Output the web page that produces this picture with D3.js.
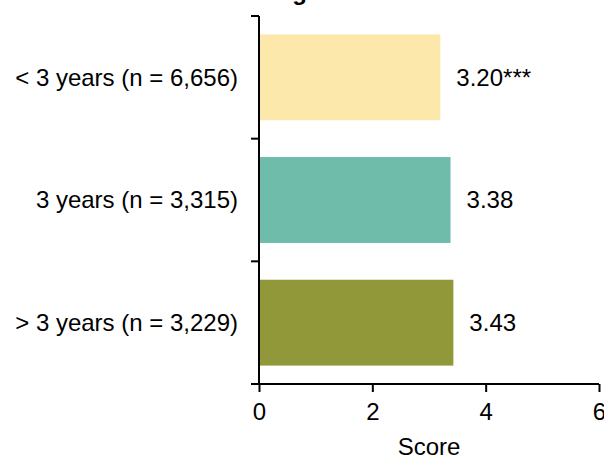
<!DOCTYPE html>
<html lang="en">
    <head>
        <title>Knowledge Score</title>
        <meta charset="utf-8">
        <script src="https://d3js.org/d3.v7.min.js"></script>
        <style>
            * {
                margin: 0;
                padding: 0;
            }
            body {
                background-color: white;
                overflow: hidden;
            }
            text {
                font-family: "Liberation Sans", Arial, sans-serif;
            }
        </style>
    </head>
    <body>
        <main></main>
        <script>

            const categories = ["< 3 years (n = 6,656)", "3 years (n = 3,315)", "> 3 years (n = 3,229)"];
            const scores = [3.20, 3.38, 3.43];
            const valueLabels = ["3.20***", "3.38", "3.43"];
            const barColors = ["#fde8ab", "#6fbcab", "#91983a"];
            const xTicks = [0, 2, 4, 6];

            const w = 604;
            const h = 457;
            const plotLeft = 259;
            const plotRight = 599;
            const plotTop = 16;
            const plotBottom = 384;
            const fontSize = "24px";

            const svg = d3.select("main")
                .append("svg")
                .attr("width", w)
                .attr("height", h);

            const xScale = d3.scaleLinear()
                .domain([0, 6])
                .range([plotLeft, plotRight]);

            const yScale = d3.scaleBand()
                .domain(categories)
                .range([plotTop, plotBottom])
                .paddingInner(0.3)
                .paddingOuter(0.15);

            svg.selectAll("rect")
                .data(categories)
                .enter()
                .append("rect")
                .attr("x", xScale(0))
                .attr("y", d => yScale(d))
                .attr("width", (d, i) => xScale(scores[i]) - xScale(0))
                .attr("height", yScale.bandwidth())
                .attr("fill", (d, i) => barColors[i]);

            svg.selectAll("text.value")
                .data(categories)
                .enter()
                .append("text")
                .attr("class", "value")
                .attr("x", (d, i) => xScale(scores[i]) + 16)
                .attr("y", d => yScale(d) + yScale.bandwidth() / 2)
                .attr("dy", "0.35em")
                .attr("font-size", fontSize)
                .attr("fill", "black")
                .text((d, i) => valueLabels[i]);

            // y axis: ticks sit on band boundaries
            const yAxisG = svg.append("g");
            yAxisG.append("line")
                .attr("x1", plotLeft).attr("x2", plotLeft)
                .attr("y1", plotTop).attr("y2", plotBottom)
                .attr("stroke", "black").attr("stroke-width", 2);
            const step = yScale.step();
            const boundaries = d3.range(categories.length + 1).map(i => yScale(categories[0]) - yScale.paddingOuter() * step + i * step);
            yAxisG.selectAll("line.tick")
                .data(boundaries)
                .enter()
                .append("line")
                .attr("class", "tick")
                .attr("x1", plotLeft - 8).attr("x2", plotLeft)
                .attr("y1", d => d).attr("y2", d => d)
                .attr("stroke", "black").attr("stroke-width", 2);

            yAxisG.selectAll("text")
                .data(categories)
                .enter()
                .append("text")
                .attr("x", plotLeft - 21)
                .attr("y", d => yScale(d) + yScale.bandwidth() / 2)
                .attr("dy", "0.35em")
                .attr("text-anchor", "end")
                .attr("font-size", fontSize)
                .text(d => d);

            const xAxis = d3.axisBottom(xScale)
                .tickValues(xTicks)
                .tickSize(8)
                .tickPadding(11)
                .tickFormat(d3.format("d"));

            svg.append("g")
                .attr("transform", `translate(0, ${plotBottom})`)
                .call(xAxis)
                .call(g => g.selectAll("path, line").attr("stroke", "black").attr("stroke-width", 2))
                .call(g => g.select(".domain").attr("d", `M${plotLeft},0H${plotRight}`))
                .call(g => g.selectAll("text")
                    .attr("font-size", fontSize)
                    .attr("font-family", "'Liberation Sans', Arial, sans-serif")
                    .attr("fill", "black"));

            svg.append("text")
                .attr("x", (plotLeft + plotRight) / 2)
                .attr("y", 455)
                .attr("text-anchor", "middle")
                .attr("font-size", fontSize)
                .text("Score");

            svg.append("text")
                .attr("x", 293)
                .attr("y", 0)
                .attr("text-anchor", "middle")
                .attr("font-size", fontSize)
                .attr("font-weight", "bold")
                .text("Knowledge Score");

        </script>
    </body>
</html>
